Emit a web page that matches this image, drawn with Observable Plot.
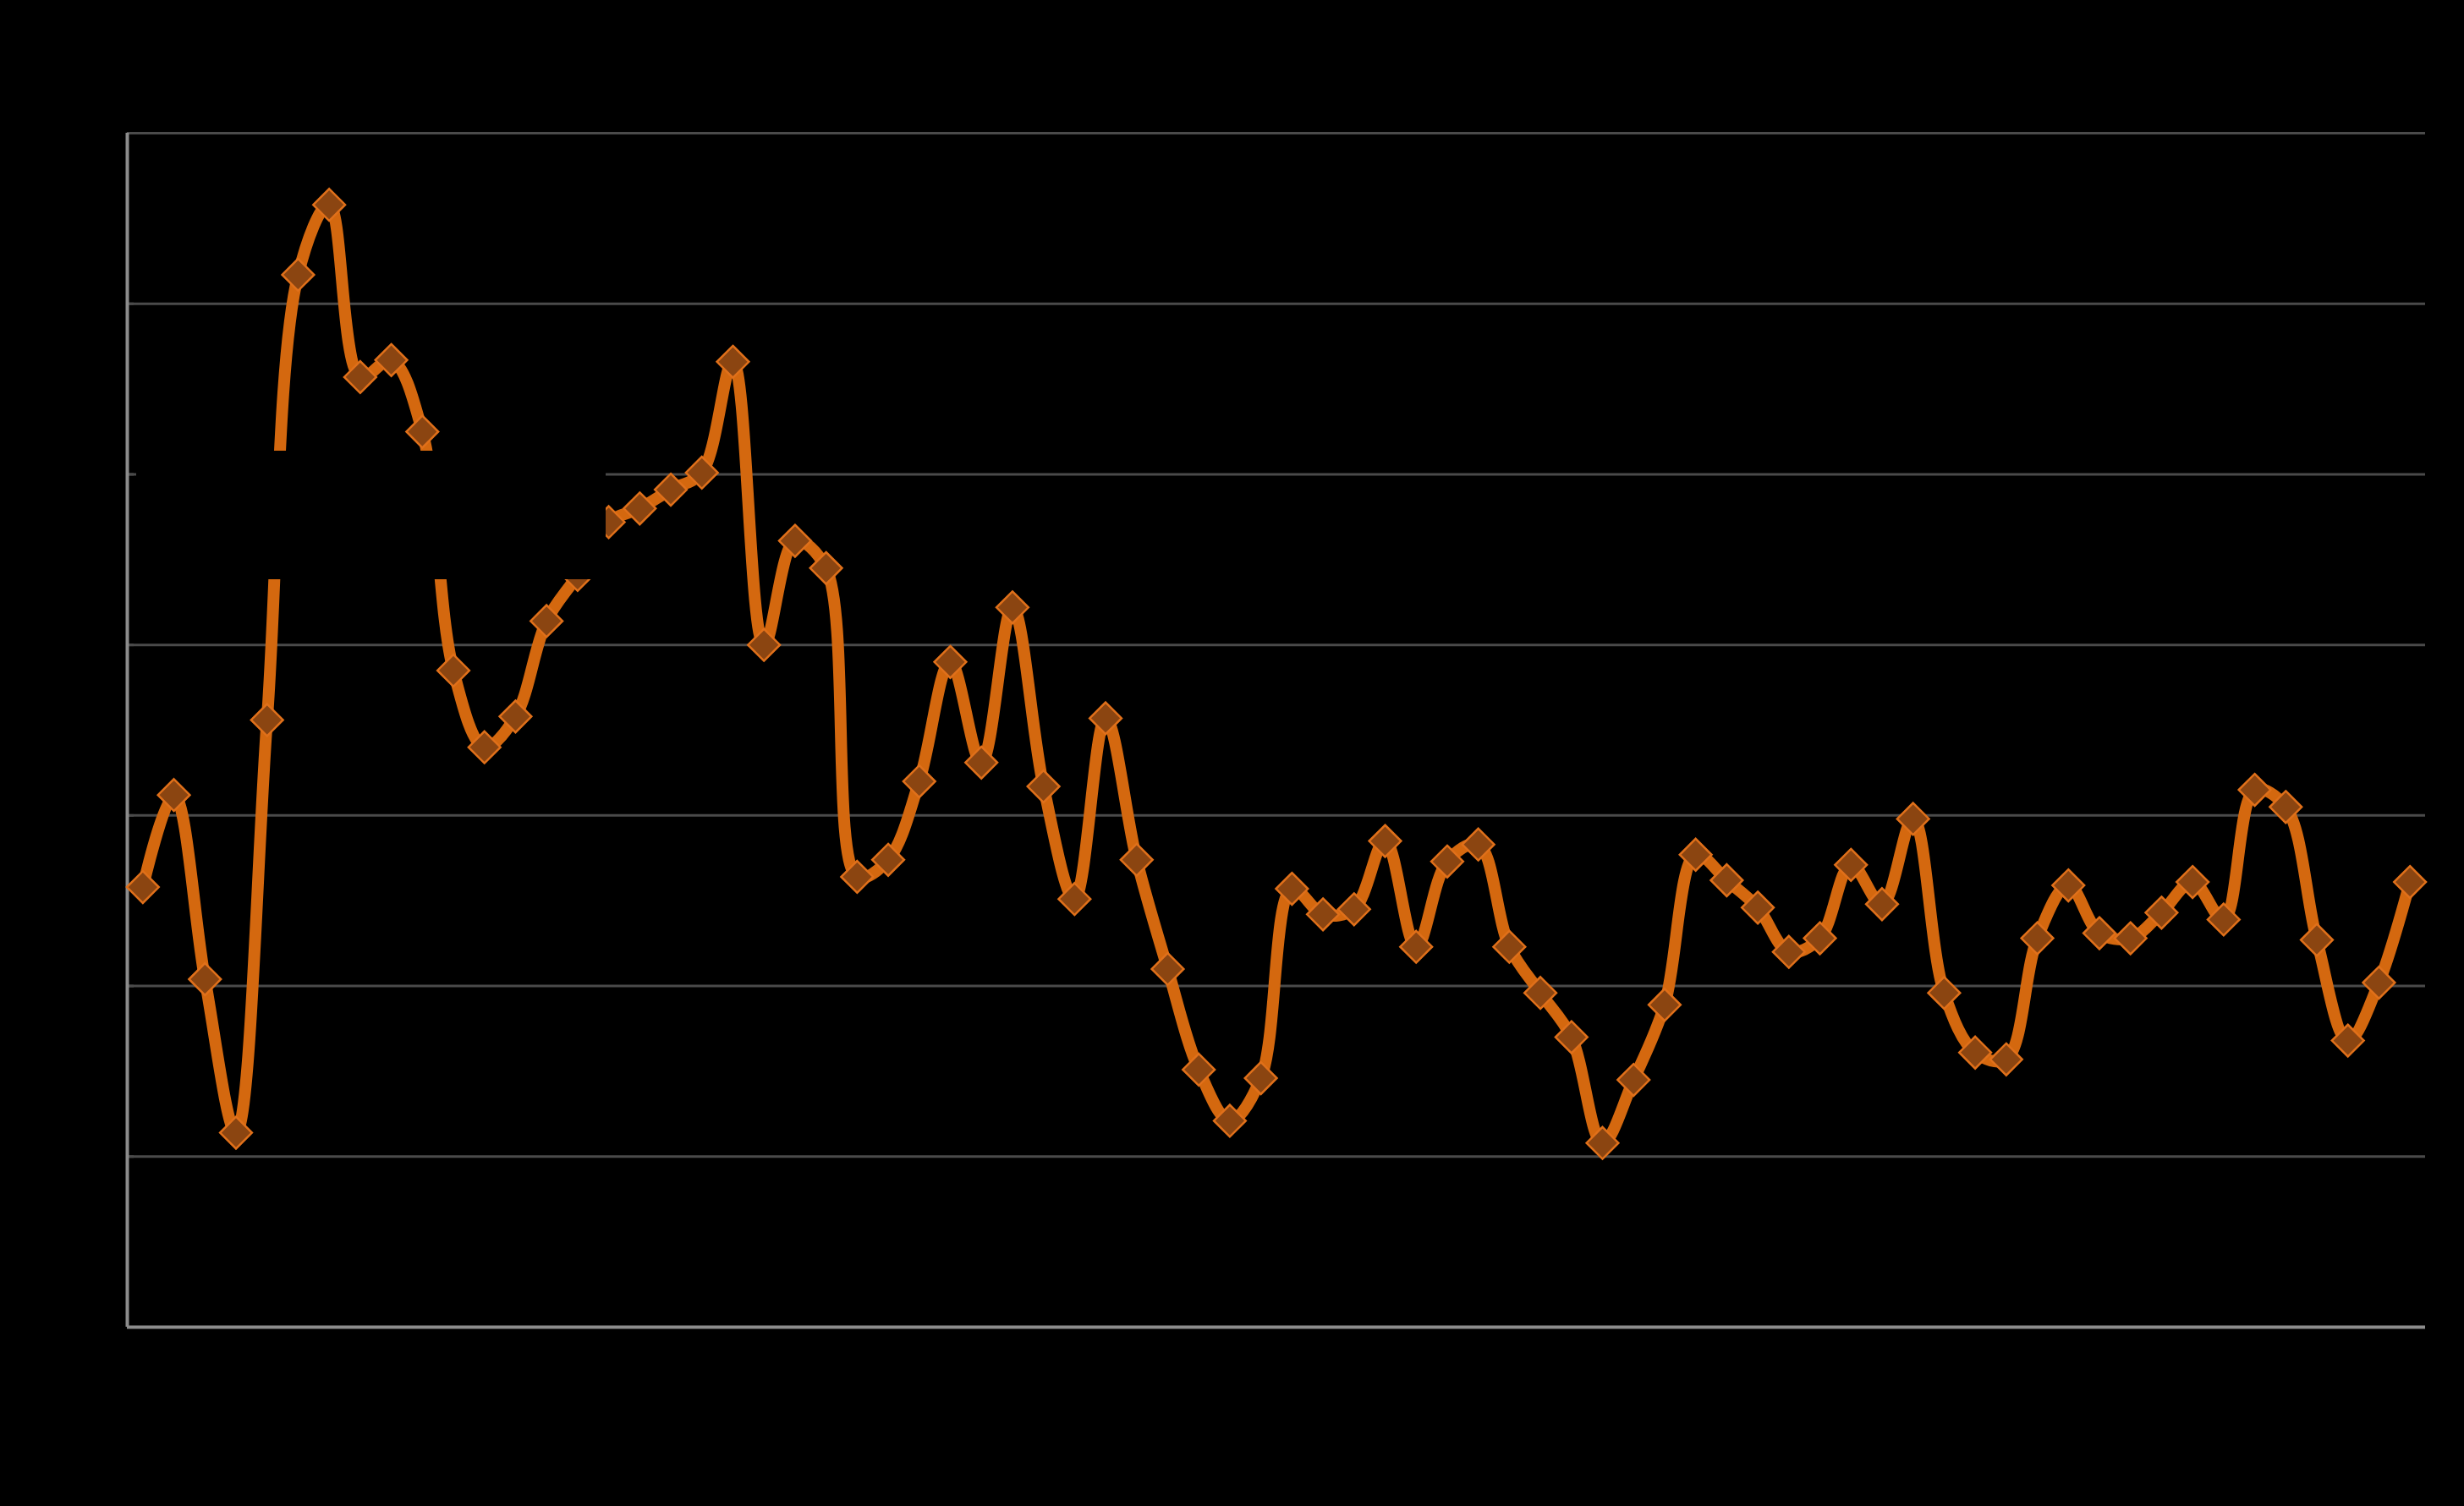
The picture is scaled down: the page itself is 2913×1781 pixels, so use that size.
<!DOCTYPE html>
<html>
<head>
<meta charset="utf-8">
<script src="https://cdn.jsdelivr.net/npm/d3@7"></script>
<script src="https://cdn.jsdelivr.net/npm/@observablehq/plot@0.6"></script>
<style>
  html, body { margin: 0; padding: 0; background: #000; }
  #wrap { position: relative; width: 2913px; height: 1781px; background: #000; overflow: hidden; }
  #box { position: absolute; left: 161px; top: 533px; width: 555px; height: 152px; background: #000; }
</style>
</head>
<body>
<div id="wrap"><div id="box"></div></div>
<script>
// Category positions (1..74) and series values
const periods = d3.range(1, 75);
const values = [
  2.58, 3.12, 2.04, 1.14, 3.56, 6.17, 6.58, 5.57, 5.67, 5.25,
  3.85, 3.40, 3.58, 4.14, 4.41, 4.72, 4.80, 4.91, 5.01, 5.66,
  4.00, 4.61, 4.45, 2.64, 2.74, 3.20, 3.90, 3.31, 4.22, 3.17,
  2.51, 3.57, 2.74, 2.10, 1.51, 1.21, 1.46, 2.57, 2.42, 2.45,
  2.85, 2.23, 2.73, 2.83, 2.23, 1.96, 1.70, 1.08, 1.45, 1.89,
  2.77, 2.62, 2.46, 2.20, 2.28, 2.71, 2.48, 2.98, 1.96, 1.61,
  1.57, 2.28, 2.59, 2.31, 2.28, 2.43, 2.61, 2.39, 3.15, 3.05,
  2.27, 1.68, 2.02, 2.61
];
const gridTicks = [1, 2, 3, 4, 5, 6, 7];

const data = periods.map((p, i) => ({period: p, value: values[i]}));

const chart = Plot.plot({
  width: 2913,
  height: 1781,
  marginLeft: 150,
  marginRight: 46,
  marginTop: 157,
  marginBottom: 212,
  style: {background: "#000"},
  x: {type: "linear", domain: [0.5, 74.5], axis: null},
  y: {domain: [0, 7], axis: null},
  marks: [
    Plot.ruleY(gridTicks, {stroke: "#4a4a4a", strokeWidth: 3}),
    Plot.ruleY(gridTicks, {x1: 0.5, x2: 0.72, stroke: "#4a4a4a", strokeWidth: 3}),
    Plot.ruleY([0], {stroke: "#8c8c8c", strokeWidth: 4}),
    Plot.ruleX([0.5], {stroke: "#8c8c8c", strokeWidth: 4}),
    Plot.line(data, {x: "period", y: "value", curve: "catmull-rom", stroke: "#D4680F", strokeWidth: 14, strokeLinejoin: "round"}),
    Plot.dot(data, {x: "period", y: "value", symbol: "diamond2", r: 17, fill: "#8B4511", stroke: "#E0701A", strokeWidth: 2.5})
  ]
});
document.getElementById("wrap").insertBefore(chart, document.getElementById("box"));
</script>
</body>
</html>
